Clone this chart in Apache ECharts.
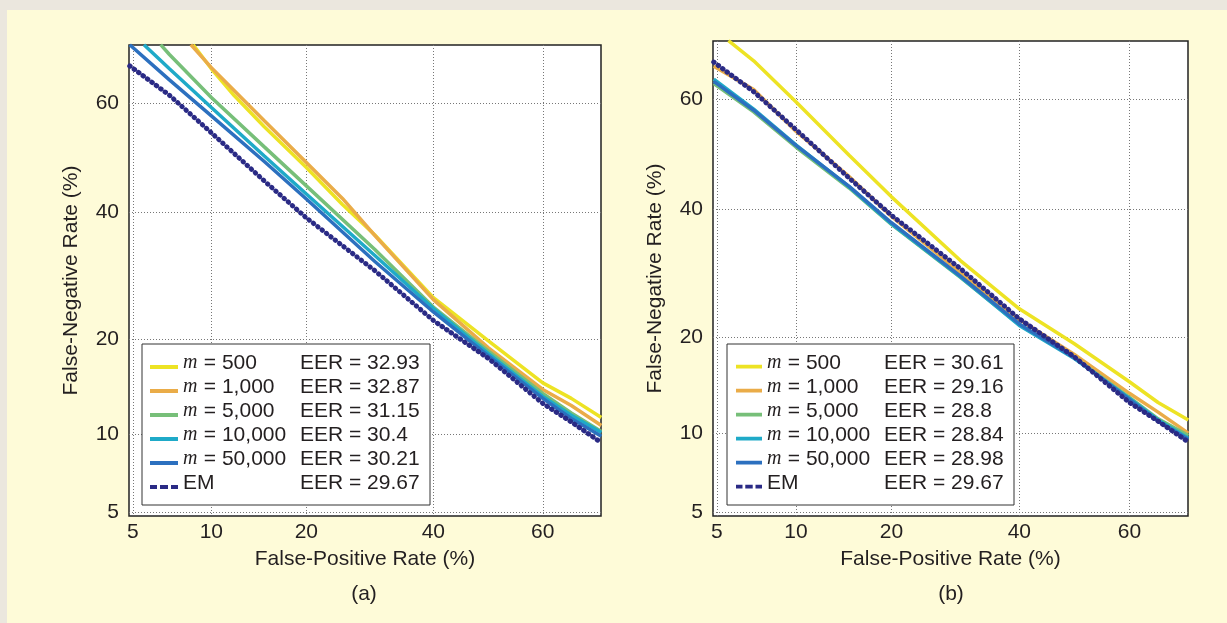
<!DOCTYPE html>
<html>
<head>
<meta charset="utf-8">
<script src="https://cdn.jsdelivr.net/npm/echarts@6/dist/echarts.min.js"></script>
<style>
html,body{margin:0;padding:0;background:#fefbd8;}
#c{width:1227px;height:623px;}
</style>
</head>
<body>
<div id="c"></div>
<script>
// ---- tick labels (percent) ----
const TICKS = [5, 10, 20, 40, 60];

// ---- series labels ----
const LABELS = ['500', '1,000', '5,000', '10,000', '50,000', 'EM'];
const EER_A = ['32.93', '32.87', '31.15', '30.4', '30.21', '29.67'];
const EER_B = ['30.61', '29.16', '28.8', '28.84', '28.98', '29.67'];
const COLORS = ['#ede324', '#eaac48', '#77bf79', '#1faac8', '#2c70bf', '#2a2a85'];

// ---- panel (a): [false-positive %, false-negative %] ----
const A_M500   = [[8.6,70],[10,66.0],[12,61.3],[15,55.7],[20,48.2],[25,41.4],[30,36.0],[40,25.8],[50,19.8],[60,14.8],[65,13.2],[70,11.4]];
const A_M1000  = [[8.43,70],[10,66.2],[12,62.2],[15,56.8],[20,49.1],[25,42.5],[30,35.9],[40,25.5],[50,18.9],[60,14.1],[65,12.5],[70,10.7]];
const A_M5000  = [[6.47,70],[7,68.4],[10,61.0],[15,52.0],[20,44.8],[30,33.5],[40,24.4],[50,18.5],[60,13.7],[65,11.8],[70,10.2]];
const A_M10000 = [[5.55,70],[7,66.0],[10,59.2],[15,50.3],[20,43.3],[30,32.5],[40,24.2],[50,18.2],[60,13.4],[65,11.6],[70,10.1]];
const A_M50000 = [[4.85,70],[7,64.1],[10,57.7],[15,49.3],[20,42.4],[30,31.5],[40,23.7],[50,17.9],[60,13.2],[65,11.3],[70,9.8]];
const A_EM     = [[4.85,66.5],[7,61.4],[10,54.6],[15,45.7],[20,39.0],[30,30.0],[40,22.5],[50,17.6],[60,12.7],[65,11.0],[70,9.3]];

// ---- panel (b) ----
const B_M500   = [[5.57,70],[7,66.7],[10,59.6],[15,49.9],[20,42.3],[30,31.3],[40,23.9],[50,19.2],[60,14.8],[65,12.7],[70,11.1]];
const B_M1000  = [[4.85,65.8],[7,61.8],[10,54.3],[15,46.0],[20,38.8],[30,29.4],[40,22.4],[50,17.9],[60,13.6],[65,11.8],[70,10.0]];
const B_M5000  = [[4.85,62.8],[7,57.8],[10,51.4],[15,43.9],[20,37.4],[30,28.6],[40,21.7],[50,17.5],[60,13.2],[65,11.2],[70,9.8]];
const B_M10000 = [[4.85,63.6],[7,58.3],[10,51.8],[15,44.1],[20,37.5],[30,28.7],[40,21.6],[50,17.4],[60,13.1],[65,11.1],[70,9.6]];
const B_M50000 = [[4.85,63.2],[7,58.1],[10,51.7],[15,44.2],[20,37.7],[30,28.8],[40,21.8],[50,17.5],[60,13.0],[65,11.0],[70,9.5]];
const B_EM     = A_EM;

const PANELS = [
  [A_M500, A_M1000, A_M5000, A_M10000, A_M50000, A_EM],
  [B_M500, B_M1000, B_M5000, B_M10000, B_M50000, B_EM]
];
const EERS = [EER_A, EER_B];

// normal-deviate (probit) scale used by DET plots
function probit(p) {
  const a=[-3.969683028665376e+01,2.209460984245205e+02,-2.759285104469687e+02,1.383577518672690e+02,-3.066479806614716e+01,2.506628277459239e+00];
  const b=[-5.447609879822406e+01,1.615858368580409e+02,-1.556989798598866e+02,6.680131188771972e+01,-1.328068155288572e+01];
  const c=[-7.784894002430293e-03,-3.223964580411365e-01,-2.400758277161838e+00,-2.549732539343734e+00,4.374664141464968e+00,2.938163982698783e+00];
  const d=[7.784695709041462e-03,3.224671290700398e-01,2.445134137142996e+00,3.754408661907416e+00];
  const pl=0.02425, ph=1-pl; let q, r;
  if (p < pl) { q=Math.sqrt(-2*Math.log(p)); return (((((c[0]*q+c[1])*q+c[2])*q+c[3])*q+c[4])*q+c[5])/((((d[0]*q+d[1])*q+d[2])*q+d[3])*q+1); }
  if (p <= ph) { q=p-0.5; r=q*q; return (((((a[0]*r+a[1])*r+a[2])*r+a[3])*r+a[4])*r+a[5])*q/(((((b[0]*r+b[1])*r+b[2])*r+b[3])*r+b[4])*r+1); }
  q=Math.sqrt(-2*Math.log(1-p)); return -(((((c[0]*q+c[1])*q+c[2])*q+c[3])*q+c[4])*q+c[5])/((((d[0]*q+d[1])*q+d[2])*q+d[3])*q+1);
}
const zp = v => probit(v / 100);
const TICK_Z = TICKS.map(zp);
const AX_MIN = -1.663, AX_MAX = 0.523;
function tickFmt(v) {
  for (let i = 0; i < TICKS.length; i++) if (Math.abs(TICK_Z[i] - v) < 1e-6) return String(TICKS[i]);
  return '';
}

const FONT = "'Liberation Sans', Arial, Helvetica, sans-serif";
const TXT = '#231f20';
const FS = 21;

function axisCfg(gi, isX) {
  return {
    type: 'value', gridIndex: gi, min: AX_MIN, max: AX_MAX,
    name: isX ? 'False-Positive Rate (%)' : 'False-Negative Rate (%)',
    nameLocation: 'middle', nameGap: isX ? 33 : 47,
    nameTextStyle: { fontFamily: FONT, fontSize: FS, color: TXT },
    axisLine: { show: false },
    axisTick: { show: false, customValues: TICK_Z },
    axisLabel: { customValues: TICK_Z, formatter: tickFmt, margin: isX ? 6 : 10,
                 fontFamily: FONT, fontSize: FS, color: TXT },
    splitLine: { show: true, lineStyle: { color: '#777', width: 1, type: [1, 2] } }
  };
}

const series = [];
PANELS.forEach((panel, pi) => panel.forEach((pts, i) => {
  series.push({
    type: 'line', name: (pi ? 'b' : 'a') + i, xAxisIndex: pi, yAxisIndex: pi,
    data: pts.map(([x, y]) => [zp(x), zp(y)]),
    symbol: 'none', silent: true, animation: false, color: COLORS[i], z: 2 + i,
    lineStyle: i === 5 ? { color: COLORS[i], width: 5, type: [0.5, 5], cap: 'round' }
                       : { color: COLORS[i], width: 3.5 }
  });
}));

const ICON_SOLID = 'path://M0,0L0.01,0L0,0.01Z M0,8H28V12H0Z';
const ICON_DASH  = 'path://M0,0L0.01,0L0,0.01Z M0,8H7V12H0Z M10,8H18V12H10Z M21,8H28V12H21Z';

function legendCfg(pi) {
  return {
    orient: 'vertical', left: pi ? 727 : 142, top: 344,
    data: [0,1,2,3,4,5].map(i => ({ name: (pi ? 'b' : 'a') + i, icon: i === 5 ? ICON_DASH : ICON_SOLID })),
    selectedMode: false, backgroundColor: '#fff', borderColor: '#333', borderWidth: 1, borderRadius: 0,
    padding: [7, 10, 10, pi ? 9 : 8], itemWidth: pi ? 26 : 28, itemHeight: 12, itemGap: 0,
    itemTextGap: pi ? 10 : 8,
    itemStyle: { borderWidth: 0 },
    textStyle: {
      fontFamily: FONT, fontSize: FS, color: TXT, lineHeight: 24,
      rich: {
        m: { fontFamily: "'Liberation Serif', 'Times New Roman', serif", fontStyle: 'italic', fontSize: 20, width: 15, lineHeight: 24, color: TXT },
        t: { fontFamily: FONT, fontSize: FS, width: 102, lineHeight: 24, color: TXT },
        em: { fontFamily: FONT, fontSize: FS, width: 117, lineHeight: 24, color: TXT },
        e: { fontFamily: FONT, fontSize: FS, width: 120, lineHeight: 24, color: TXT }
      }
    },
    formatter: name => {
      const i = +name.slice(1), eer = EERS[name[0] === 'b' ? 1 : 0][i];
      return i < 5 ? `{m|m}{t| = ${LABELS[i]}}{e|EER = ${eer}}` : `{em|EM}{e|EER = ${eer}}`;
    }
  };
}

const chart = echarts.init(document.getElementById('c'), null, { renderer: 'canvas' });
chart.setOption({
  backgroundColor: '#fefbd8',
  animation: false,
  grid: [
    { left: 129, top: 45, width: 472, height: 471, show: true, backgroundColor: '#fff', borderColor: '#222', borderWidth: 1.5, containLabel: false, outerBoundsMode: 'none' },
    { left: 713, top: 41, width: 475, height: 475, show: true, backgroundColor: '#fff', borderColor: '#222', borderWidth: 1.5, containLabel: false, outerBoundsMode: 'none' }
  ],
  xAxis: [axisCfg(0, true), axisCfg(1, true)],
  yAxis: [axisCfg(0, false), axisCfg(1, false)],
  legend: [legendCfg(0), legendCfg(1)],
  graphic: [
    { type: 'rect', left: 0, top: 0, shape: { width: 1227, height: 10 }, style: { fill: '#ebe7de' }, silent: true },
    { type: 'rect', left: 0, top: 0, shape: { width: 7, height: 623 }, style: { fill: '#ebe7de' }, silent: true },
    { type: 'text', x: 364, y: 594, style: { text: '(a)', fontFamily: FONT, fontSize: FS, fill: TXT, textAlign: 'center', textVerticalAlign: 'middle' } },
    { type: 'text', x: 951, y: 594, style: { text: '(b)', fontFamily: FONT, fontSize: FS, fill: TXT, textAlign: 'center', textVerticalAlign: 'middle' } }
  ],
  series: series
});
</script>
</body>
</html>
